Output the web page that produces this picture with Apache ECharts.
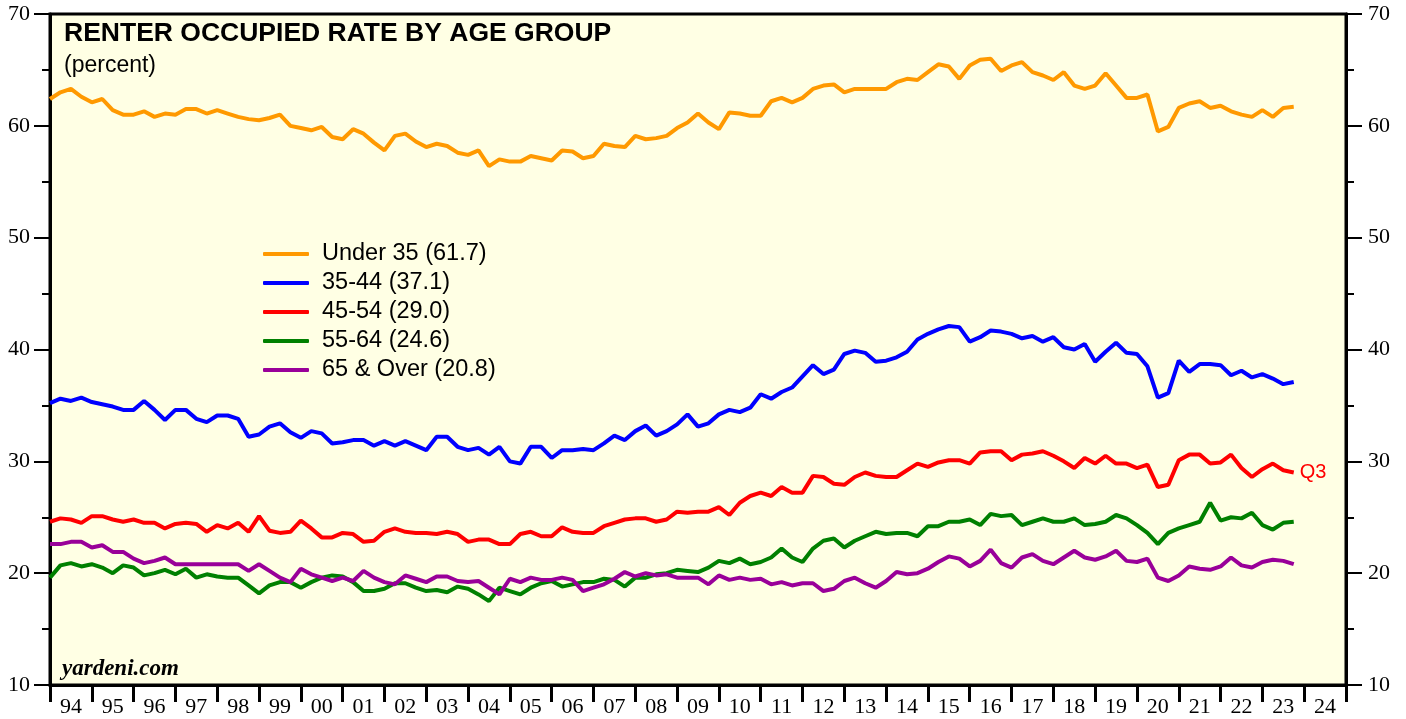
<!DOCTYPE html>
<html>
<head>
<meta charset="utf-8">
<title>Renter Occupied Rate by Age Group</title>
<script src="https://cdn.jsdelivr.net/npm/echarts@6/dist/echarts.min.js"></script>
<style>
  html, body { margin: 0; padding: 0; background: #fff; }
  #chart { width: 1406px; height: 719px; }
</style>
</head>
<body>
<div id="chart"></div>
<script>
// quarterly, first point = end of 1993Q4, last = 2023Q3
var FIRST_YEAR = 1994;
var yearLabels = ['94', '95', '96', '97', '98', '99', '00', '01', '02', '03', '04', '05', '06', '07', '08',
  '09', '10', '11', '12', '13', '14', '15', '16', '17', '18', '19', '20', '21', '22', '23', '24'];

var names = ['Under 35', '35-44', '45-54', '55-64', '65 & Over'];
var colors = ['#FF9900', '#0000FF', '#FF0000', '#008000', '#990099'];

var under35 = [62.4, 63.0, 63.3, 62.6, 62.1, 62.4, 61.4, 61.0, 61.0, 61.3, 60.8, 61.1, 61.0, 61.5, 61.5,
  61.1, 61.4, 61.1, 60.8, 60.6, 60.5, 60.7, 61.0, 60.0, 59.8, 59.6, 59.9, 59.0, 58.8, 59.7, 59.3, 58.5,
  57.8, 59.1, 59.3, 58.6, 58.1, 58.4, 58.2, 57.6, 57.4, 57.8, 56.4,
  57.0, 56.8, 56.8, 57.3, 57.1, 56.9, 57.8, 57.7, 57.1, 57.3, 58.4, 58.2, 58.1, 59.1, 58.8, 58.9, 59.1,
  59.8, 60.3, 61.1, 60.3, 59.7, 61.2, 61.1, 60.9, 60.9, 62.2, 62.5, 62.1, 62.5, 63.3, 63.6, 63.7, 63.0,
  63.3, 63.3, 63.3, 63.3, 63.9, 64.2, 64.1,
  64.8, 65.5, 65.3, 64.2, 65.4, 65.9, 66.0, 64.9, 65.4, 65.7, 64.8, 64.5, 64.1, 64.8, 63.6, 63.3, 63.6,
  64.7, 63.6, 62.5, 62.5, 62.8, 59.5, 59.9, 61.6, 62.0, 62.2, 61.6, 61.8, 61.3, 61.0, 60.8, 61.4, 60.8,
  61.6, 61.7];

var age35to44 = [35.2, 35.6, 35.4, 35.7, 35.3, 35.1, 34.9, 34.6, 34.6, 35.4, 34.6, 33.7, 34.6, 34.6, 33.8,
  33.5, 34.1, 34.1, 33.8, 32.2, 32.4, 33.1, 33.4, 32.6, 32.1, 32.7, 32.5, 31.6, 31.7, 31.9, 31.9, 31.4,
  31.8, 31.4, 31.8, 31.4, 31.0, 32.2, 32.2, 31.3, 31.0, 31.2, 30.6,
  31.3, 30.0, 29.8, 31.3, 31.3, 30.3, 31.0, 31.0, 31.1, 31.0, 31.6, 32.3, 31.9, 32.7, 33.2, 32.3, 32.7,
  33.3, 34.2, 33.1, 33.4, 34.2, 34.6, 34.4, 34.8, 36.0, 35.6, 36.2, 36.6, 37.6, 38.6, 37.8, 38.2, 39.6,
  39.9, 39.7, 38.9, 39.0, 39.3, 39.8, 40.9,
  41.4, 41.8, 42.1, 42.0, 40.7, 41.1, 41.7, 41.6, 41.4, 41.0, 41.2, 40.7, 41.1, 40.2, 40.0, 40.5, 38.9,
  39.8, 40.6, 39.7, 39.6, 38.5, 35.7, 36.1, 39.0, 38.0, 38.7, 38.7, 38.6, 37.7, 38.1, 37.5, 37.8, 37.4,
  36.9, 37.1];

var age45to54 = [24.6, 24.9, 24.8, 24.5, 25.1, 25.1, 24.8, 24.6, 24.8, 24.5, 24.5, 24.0, 24.4, 24.5, 24.4,
  23.7, 24.3, 24.0, 24.5, 23.7, 25.1, 23.8, 23.6, 23.7, 24.7, 24.0, 23.2, 23.2, 23.6, 23.5, 22.8, 22.9,
  23.7, 24.0, 23.7, 23.6, 23.6, 23.5, 23.7, 23.5, 22.8, 23.0, 23.0,
  22.6, 22.6, 23.5, 23.7, 23.3, 23.3, 24.1, 23.7, 23.6, 23.6, 24.2, 24.5, 24.8, 24.9, 24.9, 24.6, 24.8,
  25.5, 25.4, 25.5, 25.5, 25.9, 25.2, 26.3, 26.9, 27.2, 26.9, 27.7, 27.2, 27.2, 28.7, 28.6, 28.0, 27.9,
  28.6, 29.0, 28.7, 28.6, 28.6, 29.2, 29.8,
  29.5, 29.9, 30.1, 30.1, 29.8, 30.8, 30.9, 30.9, 30.1, 30.6, 30.7, 30.9, 30.5, 30.0, 29.4, 30.3, 29.8,
  30.5, 29.8, 29.8, 29.4, 29.7, 27.7, 27.9, 30.1, 30.6, 30.6, 29.8, 29.9, 30.6, 29.4, 28.6, 29.3, 29.8,
  29.2, 29.0];

var age55to64 = [19.6, 20.7, 20.9, 20.6, 20.8, 20.5, 20.0, 20.7, 20.5, 19.8, 20.0, 20.3, 19.9, 20.4, 19.6,
  19.9, 19.7, 19.6, 19.6, 18.9, 18.2, 18.9, 19.2, 19.2, 18.7, 19.2, 19.6, 19.8, 19.7, 19.2, 18.4, 18.4,
  18.6, 19.1, 19.1, 18.7, 18.4, 18.5, 18.3, 18.8, 18.6, 18.1, 17.5,
  18.7, 18.4, 18.1, 18.7, 19.1, 19.3, 18.8, 19.0, 19.2, 19.2, 19.5, 19.4, 18.8, 19.6, 19.6, 19.9, 20.0,
  20.3, 20.2, 20.1, 20.5, 21.1, 20.9, 21.3, 20.8, 21.0, 21.4, 22.2, 21.4, 21.0, 22.2, 22.9, 23.1, 22.3,
  22.9, 23.3, 23.7, 23.5, 23.6, 23.6, 23.3,
  24.2, 24.2, 24.6, 24.6, 24.8, 24.3, 25.3, 25.1, 25.2, 24.3, 24.6, 24.9, 24.6, 24.6, 24.9, 24.3, 24.4,
  24.6, 25.2, 24.9, 24.3, 23.6, 22.6, 23.6, 24.0, 24.3, 24.6, 26.3, 24.7, 25.0, 24.9, 25.4, 24.3, 23.9,
  24.5, 24.6];

var age65up = [22.6, 22.6, 22.8, 22.8, 22.3, 22.5, 21.9, 21.9, 21.3, 20.9, 21.1, 21.4, 20.8, 20.8, 20.8,
  20.8, 20.8, 20.8, 20.8, 20.2, 20.8, 20.2, 19.6, 19.2, 20.4, 19.9, 19.6, 19.3, 19.6, 19.3, 20.2, 19.6,
  19.2, 19.0, 19.8, 19.5, 19.2, 19.7, 19.7, 19.3, 19.2, 19.3, 18.7,
  18.1, 19.5, 19.2, 19.6, 19.4, 19.4, 19.6, 19.4, 18.4, 18.7, 19.0, 19.5, 20.1, 19.7, 20.0, 19.8, 19.9,
  19.6, 19.6, 19.6, 19.0, 19.8, 19.4, 19.6, 19.4, 19.5, 19.0, 19.2, 18.9, 19.1, 19.1, 18.4, 18.6, 19.3,
  19.6, 19.1, 18.7, 19.3, 20.1, 19.9, 20.0,
  20.4, 21.0, 21.5, 21.3, 20.6, 21.1, 22.1, 20.9, 20.5, 21.4, 21.7, 21.1, 20.8, 21.4, 22.0, 21.4, 21.2,
  21.5, 22.0, 21.1, 21.0, 21.3, 19.6, 19.3, 19.8, 20.6, 20.4, 20.3, 20.6, 21.4, 20.7, 20.5, 21.0, 21.2,
  21.1, 20.8];

var allSeries = [under35, age35to44, age45to54, age55to64, age65up];

function toPairs(arr) {
  // quarter index -> fractional year
  return arr.map(function (v, i) {
    return [FIRST_YEAR + i / 4, v];
  });
}

var yearTicks = [];
var labelSpots = [];
for (var y = 0; y <= yearLabels.length; y++) {
  yearTicks.push(FIRST_YEAR + y);
  if (y < yearLabels.length) labelSpots.push(FIRST_YEAR + y + 0.5);
}

var serif = 'Liberation Serif';
var sans = 'Liberation Sans';

function yAxisOf(pos, margin) {
  return {
    type: 'value',
    position: pos,
    min: 10,
    max: 70,
    interval: 10,
    axisLine: { show: true, lineStyle: { color: '#000', width: 3 } },
    axisTick: { show: true, length: 16, lineStyle: { color: '#000', width: 2 } },
    minorTick: { show: true, splitNumber: 2, length: 8, lineStyle: { color: '#000', width: 2 } },
    axisLabel: { color: '#000', fontFamily: serif, fontSize: 22, margin: margin },
    splitLine: { show: false },
    minorSplitLine: { show: false }
  };
}

var series = allSeries.map(function (arr, k) {
  var last = arr[arr.length - 1];
  var s = {
    name: names[k] + ' (' + last.toFixed(1) + ')',
    type: 'line',
    symbol: 'none',
    data: toPairs(arr),
    lineStyle: { color: colors[k], width: 4 },
    itemStyle: { color: colors[k] },
    z: 2 + k
  };
  if (k === 2) {
    s.endLabel = {
      show: true,
      formatter: 'Q3',
      color: '#FF0000',
      fontFamily: sans,
      fontSize: 20,
      distance: 6
    };
  }
  return s;
});

var option = {
  backgroundColor: '#fff',
  animation: false,
  title: {
    text: 'RENTER OCCUPIED RATE BY AGE GROUP',
    subtext: '(percent)',
    left: 64,
    top: 20,
    padding: 0,
    itemGap: 7,
    textStyle: { color: '#000', fontFamily: sans, fontWeight: 'bold', fontSize: 26.5 },
    subtextStyle: { color: '#000', fontFamily: sans, fontSize: 23 }
  },
  legend: {
    orient: 'vertical',
    left: 263,
    top: 242,
    padding: 0,
    icon: 'roundRect',
    itemWidth: 46,
    itemHeight: 4,
    itemGap: 5,
    textStyle: { color: '#000', fontFamily: sans, fontSize: 23.5, padding: [0, 0, 0, 8] },
    data: series.map(function (s) { return s.name; })
  },
  grid: {
    left: 50,
    right: 60,
    top: 14,
    bottom: 34,
    show: true,
    backgroundColor: '#FFFFE4',
    borderColor: '#000',
    borderWidth: 3
  },
  xAxis: {
    type: 'value',
    min: FIRST_YEAR,
    max: FIRST_YEAR + yearLabels.length,
    axisLine: { show: true, lineStyle: { color: '#000', width: 3 } },
    axisTick: {
      show: true,
      customValues: yearTicks,
      length: 17,
      lineStyle: { color: '#000', width: 3 }
    },
    axisLabel: {
      customValues: labelSpots,
      color: '#000',
      fontFamily: serif,
      fontSize: 22,
      margin: 11,
      formatter: function (v) {
        return yearLabels[Math.floor(v) - FIRST_YEAR];
      }
    },
    splitLine: { show: false }
  },
  yAxis: [yAxisOf('left', 20), yAxisOf('right', 22)],
  graphic: [{
    type: 'text',
    left: 62,
    top: 658,
    style: {
      text: 'yardeni.com',
      font: 'italic bold 23px "Liberation Serif"',
      fill: '#000'
    }
  }],
  series: series
};

var chart = echarts.init(document.getElementById('chart'));
chart.setOption(option);
</script>
</body>
</html>
